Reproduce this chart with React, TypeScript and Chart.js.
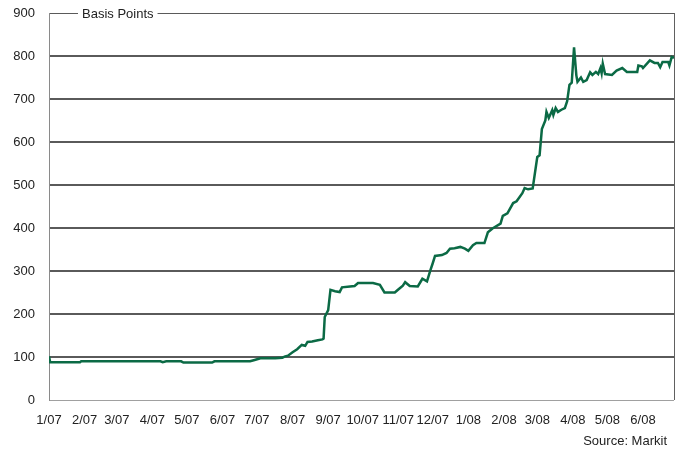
import React, { useEffect, useRef } from "react";
import { Chart, registerables } from "chart.js";

Chart.register(...registerables);

// Days since 1 Jan 2007
const days = [
  0, 1, 27, 28, 97, 99, 102, 115, 117, 142, 144, 175, 179, 184, 197, 203, 205, 208,
  212, 216, 220, 223, 225, 229, 234, 238, 239, 240, 243, 245, 249, 253, 255, 262, 266,
  269, 282, 288, 292, 301, 304, 308, 310, 314, 321, 325, 329, 332, 334, 336, 342, 346,
  349, 353, 358, 362, 365, 369, 372, 379, 382, 386, 393, 395, 399, 404, 407, 412, 414,
  417, 421, 425, 427, 429, 432, 433, 435, 438, 439, 441, 443, 446, 449, 451, 453, 455,
  457, 459, 460, 463, 465, 468, 471, 473, 476, 478, 480, 481, 482, 484, 490, 494, 499,
  503, 512, 513, 516, 517, 523, 527, 530, 532, 534, 539, 540, 542, 544,
];
// Spread in basis points
const spreads = [
  102, 88, 88, 90, 90, 88, 90, 90, 87, 87, 90, 90, 93, 97, 97, 98, 101, 103,
  111, 118, 128, 126, 135, 136, 139, 141, 143, 193, 209, 256, 253, 251, 262, 264, 265,
  272, 272, 268, 250, 250, 257, 266, 274, 265, 264, 282, 276, 302, 318, 335, 337, 342,
  352, 353, 356, 352, 347, 360, 365, 365, 390, 399, 410, 428, 434, 458, 462, 481, 493,
  490, 492, 565, 569, 630, 650, 670, 656, 674, 663, 679, 670, 675, 679, 695, 733, 738,
  820, 755, 740, 750, 740, 744, 762, 756, 763, 758, 772, 760, 782, 758, 756, 766, 772,
  763, 763, 778, 776, 772, 790, 784, 784, 774, 786, 786, 778, 798, 796,
];

// Month starts (days since 1 Jan 2007) and their labels
const monthDays = [0, 31, 59, 90, 120, 151, 181, 212, 243, 273, 304, 334, 365, 396, 425, 456, 486, 517];
const monthLabels = [
  "1/07", "2/07", "3/07", "4/07", "5/07", "6/07", "7/07", "8/07", "9/07",
  "10/07", "11/07", "12/07", "1/08", "2/08", "3/08", "4/08", "5/08", "6/08",
];
const yTicks = [0, 100, 200, 300, 400, 500, 600, 700, 800, 900];

const FONT = "'Liberation Sans', Arial, sans-serif";

export default function App() {
  const ref = useRef<HTMLCanvasElement | null>(null);

  useEffect(() => {
    if (!ref.current) return;
    const overlay = {
      id: "overlay",
      afterDraw(chart: any) {
        const { ctx, chartArea } = chart;
        ctx.save();
        // right border
        ctx.strokeStyle = "#606060";
        ctx.lineWidth = 1;
        ctx.beginPath();
        ctx.moveTo(chartArea.right + 0.5, chartArea.top);
        ctx.lineTo(chartArea.right + 0.5, chartArea.bottom);
        ctx.stroke();
        // Basis Points label on top gridline
        ctx.font = `13px ${FONT}`;
        const label = "Basis Points";
        const w = ctx.measureText(label).width;
        const x0 = chartArea.left + 33;
        ctx.fillStyle = "#ffffff";
        ctx.fillRect(x0 - 4, chartArea.top - 6, w + 8, 12);
        ctx.fillStyle = "#222222";
        ctx.textBaseline = "middle";
        ctx.textAlign = "left";
        ctx.fillText(label, x0, chartArea.top + 1);
        // source
        ctx.textAlign = "right";
        ctx.fillText("Source: Markit", 667, 441);
        ctx.restore();
      },
    };

    const chart = new Chart(ref.current, {
      type: "line",
      data: {
        datasets: [
          {
            data: days.map((d, i) => ({ x: d, y: spreads[i] })),
            borderColor: "#0b6a45",
            borderWidth: 2.5,
            pointRadius: 0,
            tension: 0,
            fill: false,
          },
        ],
      },
      options: {
        animation: false,
        responsive: false,
        devicePixelRatio: 1,
        layout: { padding: { left: 0, right: 5, top: 13, bottom: 0 } },
        plugins: { legend: { display: false }, tooltip: { enabled: false } },
        scales: {
          x: {
            type: "linear",
            min: 0,
            max: 544,
            afterBuildTicks: (scale: any) => {
              scale.ticks = monthDays.map((v) => ({ value: v }));
            },
            afterFit: (scale: any) => {
              scale.height = 56;
            },
            ticks: {
              autoSkip: false,
              maxRotation: 0,
              padding: 13,
              color: "#222222",
              font: { family: FONT, size: 13 },
              callback: (v: any) => {
                const i = monthDays.indexOf(Number(v));
                return i >= 0 ? monthLabels[i] : "";
              },
            },
            grid: { display: false, drawTicks: false },
            border: { display: false },
          },
          y: {
            min: 0,
            max: 900,
            afterBuildTicks: (scale: any) => {
              scale.ticks = yTicks.map((v) => ({ value: v }));
            },
            afterFit: (scale: any) => {
              scale.width = 49;
              scale.paddingTop = 0;
              scale.paddingBottom = 0;
            },
            ticks: {
              padding: 14,
              color: "#222222",
              font: { family: FONT, size: 13 },
            },
            grid: {
              drawTicks: false,
              color: (c: any) => (c.tick && c.tick.value === 0 ? "#a0a0a0" : "#5a5a5a"),
              lineWidth: (c: any) => (c.tick && (c.tick.value === 0 || c.tick.value === 900) ? 1 : 2),
            },
            border: { display: true, color: "#8a8a8a", width: 1 },
          },
        },
      },
      plugins: [overlay],
    });
    return () => chart.destroy();
  }, []);

  return (
    <div style={{ position: "fixed", left: 0, top: 0, width: 679, height: 456, background: "#fff" }}>
      <canvas ref={ref} width={679} height={456} style={{ display: "block" }} />
    </div>
  );
}
